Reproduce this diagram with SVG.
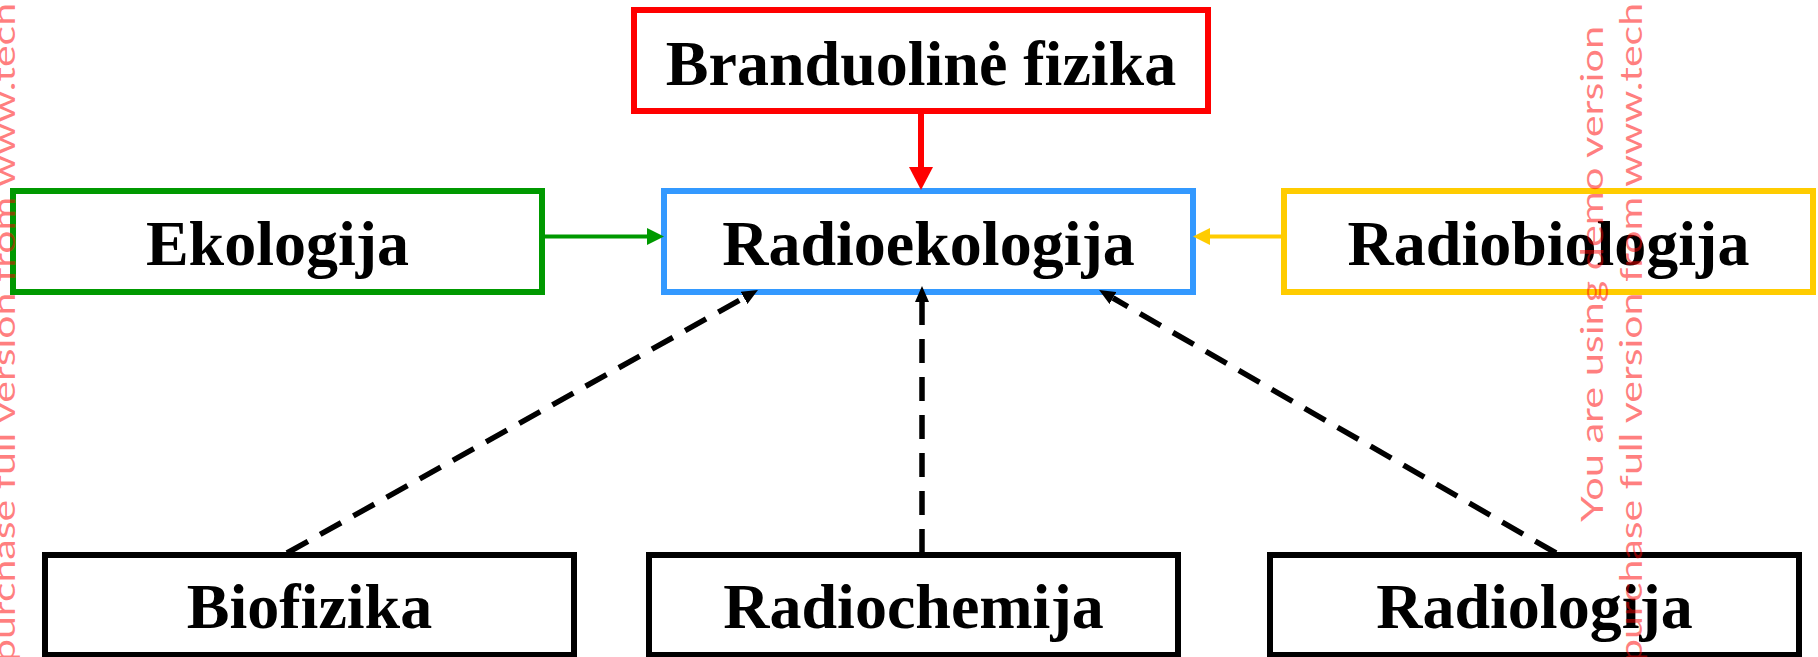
<svg xmlns="http://www.w3.org/2000/svg" width="1818" height="657" viewBox="0 0 1818 657">
<style>
.box{fill:#fff;stroke-width:6}
.lbl{font-family:"Liberation Serif","Times New Roman",serif;font-weight:bold;font-size:64px;fill:#000;text-anchor:middle}
.dash{fill:none;stroke:#000;stroke-width:5.5;stroke-dasharray:24 14}
.wm{font-family:Lato,"Open Sans",sans-serif;font-weight:400;font-size:31px;fill:#ff0000;fill-opacity:0.5}
</style>
<defs>
<marker id="ahRed" viewBox="0 0 23 24" refX="0" refY="12" markerWidth="23" markerHeight="24" markerUnits="userSpaceOnUse" orient="auto"><path d="M0,0 L23,12 L0,24 z" fill="#ff0000"/></marker>
<marker id="ahGreen" viewBox="0 0 17 17" refX="0" refY="8.5" markerWidth="17" markerHeight="17" markerUnits="userSpaceOnUse" orient="auto"><path d="M0,0 L17,8.5 L0,17 z" fill="#009900"/></marker>
<marker id="ahYellow" viewBox="0 0 17 17" refX="0" refY="8.5" markerWidth="17" markerHeight="17" markerUnits="userSpaceOnUse" orient="auto"><path d="M0,0 L17,8.5 L0,17 z" fill="#ffcc00"/></marker>
<marker id="ahBlack" viewBox="0 0 16 14" refX="0" refY="7" markerWidth="16" markerHeight="14" markerUnits="userSpaceOnUse" orient="auto"><path d="M0,0 L16,7 L0,14 z" fill="#000"/></marker>
</defs>
<rect width="1818" height="657" fill="#fff"/>
<g id="n-branduoline">
<rect class="box" x="634" y="10" width="574" height="101" stroke="#ff0000"/>
<text class="lbl" x="921" y="85">Branduolinė fizika</text>
</g>
<g id="n-ekologija">
<rect class="box" x="13" y="191" width="529" height="101" stroke="#009900"/>
<text class="lbl" x="277.5" y="265">Ekologija</text>
</g>
<g id="n-radioekologija">
<rect class="box" x="664" y="191" width="529" height="101" stroke="#3399ff"/>
<text class="lbl" x="928.5" y="265">Radioekologija</text>
</g>
<g id="n-radiobiologija">
<rect class="box" x="1284" y="191" width="529" height="101" stroke="#ffcc00"/>
<text class="lbl" x="1548.5" y="265">Radiobiologija</text>
</g>
<g id="n-biofizika">
<rect class="box" x="45" y="555" width="529" height="100" stroke="#000"/>
<text class="lbl" x="309.5" y="628">Biofizika</text>
</g>
<g id="n-radiochemija">
<rect class="box" x="649" y="555" width="529" height="100" stroke="#000"/>
<text class="lbl" x="913.5" y="628">Radiochemija</text>
</g>
<g id="n-radiologija">
<rect class="box" x="1270" y="555" width="529" height="100" stroke="#000"/>
<text class="lbl" x="1534.5" y="628">Radiologija</text>
</g>
<g id="connectors">
<line x1="921" y1="111" x2="921" y2="167" stroke="#ff0000" stroke-width="6" marker-end="url(#ahRed)"/>
<line x1="542" y1="236.5" x2="647" y2="236.5" stroke="#009900" stroke-width="4" marker-end="url(#ahGreen)"/>
<line x1="1284" y1="236.5" x2="1210" y2="236.5" stroke="#ffcc00" stroke-width="4" marker-end="url(#ahYellow)"/>
<line class="dash" x1="922" y1="553" x2="922" y2="302" marker-end="url(#ahBlack)"/>
<line class="dash" x1="287" y1="553" x2="744" y2="297.8" marker-end="url(#ahBlack)"/>
<line class="dash" x1="1556" y1="553" x2="1113" y2="298" marker-end="url(#ahBlack)"/>
</g>
<g id="watermark">
<text class="wm" transform="translate(1603,522) rotate(-90)" textLength="496" lengthAdjust="spacingAndGlyphs">You are using demo version</text>
<text class="wm" transform="translate(1642,662) rotate(-90)" textLength="659" lengthAdjust="spacingAndGlyphs">purchase full version from www.tech</text>
<text class="wm" transform="translate(15,662) rotate(-90)" textLength="659" lengthAdjust="spacingAndGlyphs">purchase full version from www.tech</text>
</g>
</svg>
